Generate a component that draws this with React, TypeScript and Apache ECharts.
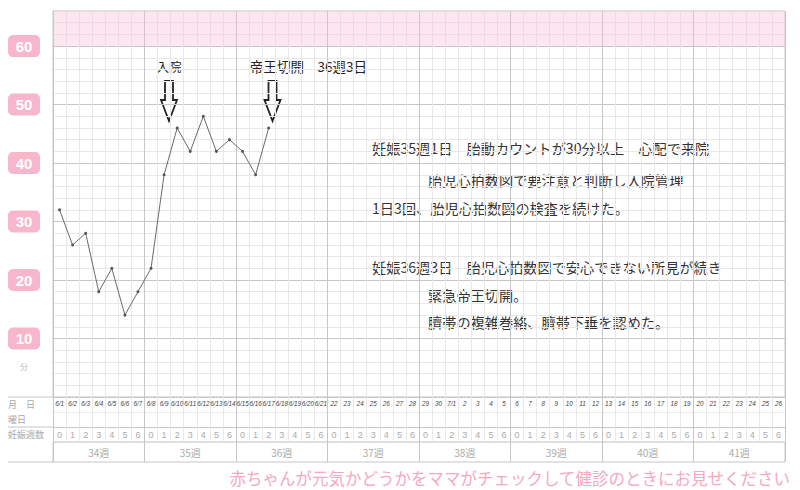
import React, { useEffect, useRef } from "react";
import * as echarts from "echarts";

const weekLabels = ["34週", "35週", "36週", "37週", "38週", "39週", "40週", "41週"];
const dayOfWeekNumbers = ["0", "1", "2", "3", "4", "5", "6"];
const dateLabels = [
  "6/1", "6/2", "6/3", "6/4", "6/5", "6/6", "6/7",
  "6/8", "6/9", "6/10", "6/11", "6/12", "6/13", "6/14",
  "6/15", "6/16", "6/17", "6/18", "6/19", "6/20", "6/21",
  "22", "23", "24", "25", "26", "27", "28",
  "29", "30", "7/1", "2", "3", "4", "5",
  "6", "7", "8", "9", "10", "11", "12",
  "13", "14", "15", "16", "17", "18", "19",
  "20", "21", "22", "23", "24", "25", "26",
];
const rowLabels = ["月　日", "曜日", "妊娠週数"];
// 胎動カウント（分）per day from 34週0日
const movementMinutes = [32, 26, 28, 18, 22, 14, 18, 22, 38, 46, 42, 48, 42, 44, 42, 38, 46];
const yLabelValues = [10, 20, 30, 40, 50, 60];

const noteLines = [
  { text: "妊娠35週1日　胎動カウントが30分以上　心配で来院", indent: false, y: 148 },
  { text: "胎児心拍数図で要注意と判断し入院管理", indent: true, y: 180 },
  { text: "1日3回、胎児心拍数図の検査を続けた。", indent: false, y: 208 },
  { text: "妊娠36週3日　胎児心拍数図で安心できない所見が続き", indent: false, y: 267 },
  { text: "緊急帝王切開。", indent: true, y: 295 },
  { text: "臍帯の複雑巻絡、臍帯下垂を認めた。", indent: true, y: 322 },
];

const CJK = "'Noto Sans CJK JP', 'Noto Sans', sans-serif";
const MAJOR = "#c6c6c6";
const MINOR = "#e8e8e8";

export default function App() {
  const ref = useRef<HTMLDivElement>(null);
  useEffect(() => {
    if (!ref.current) return;
    const chart = echarts.init(ref.current, undefined, { renderer: "svg" });
    const dayKeys: string[] = [];
    const dayNums: string[] = [];
    weekLabels.forEach((w) => dayOfWeekNumbers.forEach((d) => { dayKeys.push(w + d); dayNums.push(d); }));
    const weekCycle = [MAJOR, MINOR, MINOR, MINOR, MINOR, MINOR, MINOR];
    const yCycle = [MAJOR, MINOR, MINOR, MINOR, MINOR];

    const arrow = (cx: number) => ({
      type: "polygon",
      shape: {
        points: [
          [cx - 4, 81], [cx + 4, 81], [cx + 4, 100], [cx + 8, 100],
          [cx, 121], [cx - 8, 100], [cx - 4, 100],
        ],
      },
      style: { fill: "#fff", stroke: "#222", lineWidth: 1.8 },
    });

    const option: any = {
      animation: false,
      backgroundColor: "#fff",
      grid: [
        { left: 53, right: 15, top: 11, height: 386, show: true, borderColor: MAJOR, borderWidth: 1 },
        { left: 53, right: 15, top: 397, height: 45 },
        { left: 53, right: 15, top: 442, height: 20, show: true, borderColor: MAJOR, borderWidth: 1 },
      ],
      xAxis: [
        {
          gridIndex: 0, type: "category", data: dayKeys, boundaryGap: true,
          axisLine: { show: false }, axisTick: { show: false }, axisLabel: { show: false },
          splitLine: { show: true, interval: 0, lineStyle: { color: weekCycle, width: 1 } },
        },
        {
          gridIndex: 1, type: "category", data: dateLabels, position: "top", boundaryGap: true,
          axisLine: { show: false }, axisTick: { show: false },
          axisLabel: {
            inside: true, interval: 0, margin: 3, fontSize: 6.3, color: "#444",
            fontStyle: "italic", fontFamily: "'Liberation Sans', sans-serif",
          },
          splitLine: { show: true, interval: 0, lineStyle: { color: weekCycle, width: 1 } },
        },
        {
          gridIndex: 1, type: "category", data: dayNums, position: "bottom", boundaryGap: true,
          axisLine: { show: false }, axisTick: { show: false },
          axisLabel: { inside: true, interval: 0, margin: 3, fontSize: 9, color: "#aaa", fontFamily: "'Liberation Sans', sans-serif" },
          splitLine: { show: false },
        },
        {
          gridIndex: 2, type: "category", data: weekLabels, boundaryGap: true,
          axisLine: { show: false }, axisTick: { show: false },
          axisLabel: { inside: true, interval: 0, margin: 5, fontSize: 10, color: "#aaa", fontFamily: CJK },
          splitLine: { show: true, interval: 0, lineStyle: { color: MAJOR } },
        },
      ],
      yAxis: [
        {
          gridIndex: 0, type: "value", min: 0, max: 66, interval: 2,
          axisLine: { show: true, lineStyle: { color: MAJOR } }, axisTick: { show: false },
          axisLabel: {
            margin: 13,
            formatter: (v: number) => (yLabelValues.includes(v) ? `{b|${v}}` : ""),
            rich: {
              b: {
                backgroundColor: "#f7b6c9", color: "#fff", borderRadius: 5,
                width: 32, height: 22, lineHeight: 22, align: "center",
                fontSize: 15, fontWeight: "bold", fontFamily: "'Liberation Sans', sans-serif",
              },
            },
          },
          splitLine: { show: true, lineStyle: { color: yCycle, width: 1 } },
        },
        {
          gridIndex: 1, type: "category", data: rowLabels, inverse: true, boundaryGap: true,
          axisLine: { show: false }, axisTick: { show: false },
          axisLabel: { align: "left", margin: 45, fontSize: 9, color: "#a8a8a8", fontFamily: CJK },
          splitLine: { show: true, lineStyle: { color: [MAJOR, "#ececec", MAJOR, "#dcdcdc"] } },
        },
        { gridIndex: 2, type: "value", min: 0, max: 1, show: false },
      ],
      series: [
        {
          type: "line", xAxisIndex: 0, yAxisIndex: 0, data: movementMinutes,
          symbol: "circle", symbolSize: 3, showSymbol: true,
          lineStyle: { color: "#6a6a6a", width: 1 }, itemStyle: { color: "#555" },
          markArea: {
            silent: true,
            itemStyle: { color: "rgba(248, 187, 210, 0.36)" },
            data: [[{ yAxis: 60 }, { yAxis: 66 }]],
          },
        },
      ],
      graphic: [
        { type: "line", shape: { x1: 8, y1: 397, x2: 53, y2: 397 }, style: { stroke: MAJOR, lineWidth: 1 } },
        { type: "line", shape: { x1: 8, y1: 427, x2: 53, y2: 427 }, style: { stroke: MAJOR, lineWidth: 1 } },
        { type: "line", shape: { x1: 8, y1: 462, x2: 53, y2: 462 }, style: { stroke: MAJOR, lineWidth: 1 } },
        { type: "text", style: { text: "分", x: 20, y: 366, fill: "#bbb", fontSize: 8, fontFamily: CJK, verticalAlign: "middle" } },
        arrow(169),
        arrow(272.5),
        { type: "text", style: { text: "入院", x: 169, y: 66, align: "center", verticalAlign: "middle", fill: "#222", fontSize: 12.5, fontFamily: CJK } },
        { type: "text", style: { text: "帝王切開　36週3日", x: 250, y: 66, verticalAlign: "middle", fill: "#222", fontSize: 13.5, fontFamily: CJK } },
        ...noteLines.map((l) => ({
          type: "text",
          style: {
            text: l.text, x: l.indent ? 428 : 372, y: l.y, verticalAlign: "middle",
            fill: "#333", fontSize: 14.2, fontFamily: CJK,
          },
        })),
        {
          type: "text",
          style: {
            text: "赤ちゃんが元気かどうかをママがチェックして健診のときにお見せください",
            x: 790, y: 478, align: "right", verticalAlign: "middle",
            fill: "#f4a9c1", fontSize: 16.5, fontFamily: CJK,
          },
        },
      ],
    };
    chart.setOption(option);
    return () => chart.dispose();
  }, []);
  return (
    <div
      ref={ref}
      style={{ position: "absolute", left: 0, top: 0, width: 800, height: 490, background: "#fff" }}
    />
  );
}
